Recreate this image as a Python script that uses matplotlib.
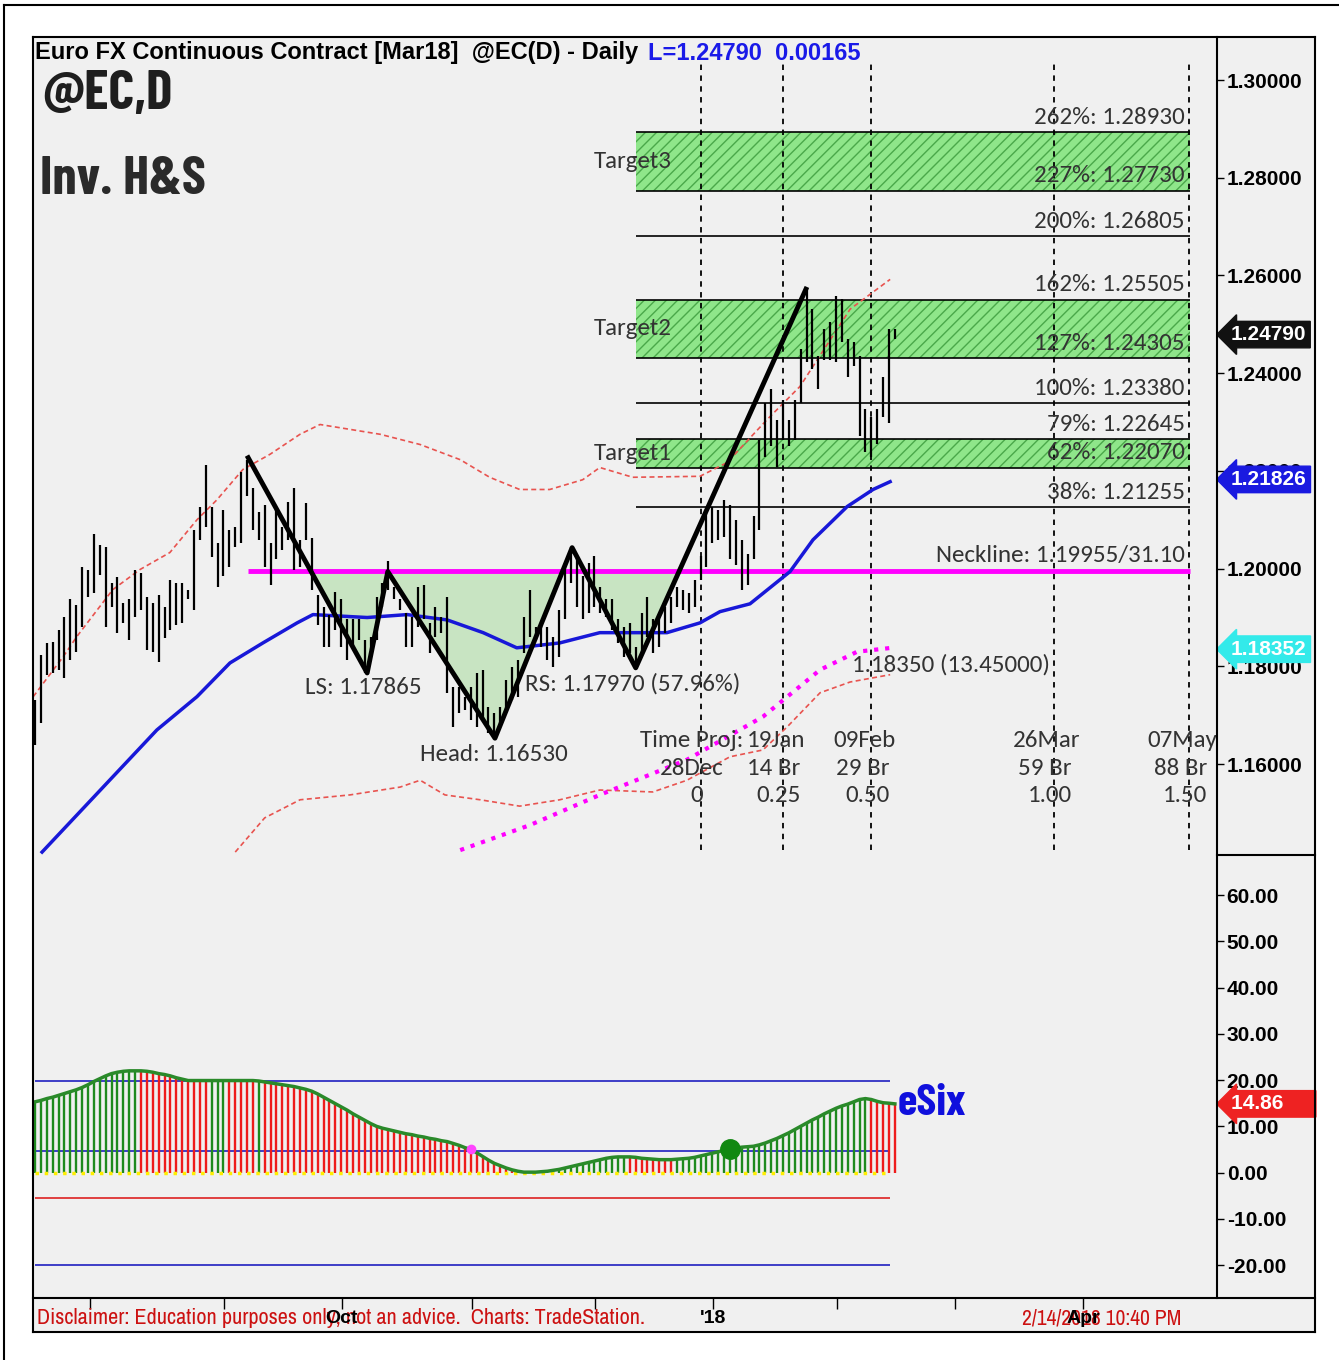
import numpy as np
import matplotlib
matplotlib.use("Agg")
import matplotlib.pyplot as plt
from matplotlib.patches import Rectangle
from matplotlib.lines import Line2D

W, H = 1339, 1360

# ---- daily bars (high / low), Euro FX @EC
highs = [1.1732, 1.1824, 1.1848, 1.1850, 1.1875, 1.1902, 1.1937, 1.1926, 1.2004, 1.1998,
         1.2070, 1.2049, 1.2045, 1.1971, 1.1982, 1.1930, 1.1937, 1.1998, 1.1992, 1.1943,
         1.1930, 1.1947, 1.1922, 1.1977, 1.1971, 1.1971, 1.1957, 1.2080, 1.2127, 1.2213,
         1.2127, 1.2053, 1.2121, 1.2080, 1.2086, 1.2197, 1.2223, 1.2166, 1.2115, 1.2131,
         1.2053, 1.2121, 1.2086, 1.2137, 1.2166, 1.2059, 1.2135, 1.2063, 1.1947, 1.1922,
         1.1906, 1.1953, 1.1937, 1.1896, 1.1896, 1.1896, 1.1855, 1.1861, 1.1943, 1.1971,
         1.2015, 1.1963, 1.1937, 1.1910, 1.1902, 1.1963, 1.1967, 1.1889, 1.1922, 1.1902,
         1.1943, 1.1758, 1.1758, 1.1738, 1.1758, 1.1787, 1.1793, 1.1717, 1.1705, 1.1717,
         1.1773, 1.1799, 1.1814, 1.1902, 1.1957, 1.1881, 1.1889, 1.1881, 1.1861, 1.1916,
         1.2012, 1.2045, 1.2025, 1.1984, 1.2012, 1.2025, 1.1963, 1.1937, 1.1937, 1.1896,
         1.1881, 1.1889, 1.1840, 1.1910, 1.1943, 1.1896, 1.1896, 1.1922, 1.1943, 1.1963,
         1.1957, 1.1951, 1.1977, 1.2025, 1.2115, 1.2127, 1.2121, 1.2141, 1.2131, 1.2100,
         1.2059, 1.2029, 1.2107, 1.2264, 1.2340, 1.2367, 1.2305, 1.2346, 1.2305, 1.2346,
         1.2449, 1.2572, 1.2531, 1.2436, 1.2490, 1.2504, 1.2557, 1.2551, 1.2469, 1.2463,
         1.2436, 1.2326, 1.2311, 1.2326, 1.2393, 1.2490, 1.2490]
lows = [1.1639, 1.1684, 1.1783, 1.1787, 1.1793, 1.1777, 1.1814, 1.1830, 1.1881, 1.1943,
        1.1951, 1.1988, 1.1881, 1.1922, 1.1869, 1.1889, 1.1855, 1.1902, 1.1916, 1.1834,
        1.1830, 1.1809, 1.1859, 1.1875, 1.1885, 1.1889, 1.1937, 1.1916, 1.2059, 1.2086,
        1.2023, 1.1963, 1.1984, 1.2004, 1.2045, 1.2053, 1.2148, 1.2080, 1.2059, 1.2004,
        1.1967, 1.2019, 1.2039, 1.2059, 1.1998, 1.2004, 1.2059, 1.1957, 1.1885, 1.1840,
        1.1840, 1.1875, 1.1840, 1.1814, 1.1840, 1.1855, 1.1787, 1.1834, 1.1855, 1.1922,
        1.1957, 1.1937, 1.1916, 1.1840, 1.1840, 1.1881, 1.1896, 1.1828, 1.1861, 1.1869,
        1.1746, 1.1676, 1.1705, 1.1711, 1.1691, 1.1676, 1.1691, 1.1664, 1.1653, 1.1676,
        1.1705, 1.1732, 1.1738, 1.1828, 1.1861, 1.1855, 1.1840, 1.1814, 1.1799, 1.1820,
        1.1896, 1.1971, 1.1922, 1.1896, 1.1910, 1.1922, 1.1910, 1.1902, 1.1875, 1.1848,
        1.1820, 1.1828, 1.1801, 1.1828, 1.1861, 1.1828, 1.1840, 1.1869, 1.1889, 1.1922,
        1.1916, 1.1910, 1.1922, 1.1977, 1.2004, 1.2053, 1.2059, 1.2065, 1.2019, 1.2008,
        1.1957, 1.1967, 1.2019, 1.2080, 1.2229, 1.2250, 1.2209, 1.2264, 1.2250, 1.2264,
        1.2340, 1.2422, 1.2408, 1.2367, 1.2428, 1.2428, 1.2422, 1.2463, 1.2393, 1.2414,
        1.2271, 1.2238, 1.2229, 1.2256, 1.2311, 1.2299, 1.2469]

# moving average and bands (bar index, price)
ma_x = [1.2, 20.7, 27.5, 33.1, 38.7, 44.5, 47.2, 56.4, 63.2, 70, 76.1, 81.8, 89.1,
        95.9, 107.3, 112.9, 116.3, 121.4, 128.2, 132.1, 137.9, 142.3, 145.2]
ma_y = [1.1420, 1.1670, 1.1738, 1.1807, 1.1848, 1.1889, 1.1906, 1.1900, 1.1906, 1.1895,
        1.1869, 1.1838, 1.1848, 1.1869, 1.1869, 1.1889, 1.1912, 1.1928, 1.1994, 1.2059,
        1.2127, 1.2162, 1.2178]
up_x = [-0.3, 4.8, 7.1, 13.2, 17.8, 22.9, 27.5, 30.9, 35.3, 39.9, 45, 48.4, 58.6, 65.4,
        72.2, 77.2, 82.3, 87.4, 93, 95.9, 101.5, 112.9, 117.5, 124.3, 129.9, 138.4, 145.2]
up_y = [1.1738, 1.1820, 1.1861, 1.1957, 1.1998, 1.2033, 1.2100, 1.2141, 1.2203, 1.2234,
        1.2275, 1.2295, 1.2275, 1.2254, 1.2223, 1.2187, 1.2162, 1.2162, 1.2182, 1.2207,
        1.2187, 1.2189, 1.2217, 1.2305, 1.2373, 1.2531, 1.2592]
lo_x = [34, 39, 45, 53.5, 62, 65.4, 69.6, 75.6, 82.3, 89.1, 95.9, 104.9, 110.7, 118,
        123.6, 127.7, 133.3, 138.4, 145.2]
lo_y = [1.1420, 1.1490, 1.1527, 1.1537, 1.1553, 1.1567, 1.1537, 1.1527, 1.1514, 1.1527,
        1.1547, 1.1543, 1.1567, 1.1615, 1.1629, 1.1676, 1.1746, 1.1768, 1.1783]
mg_x = [72.2, 84, 95.9, 110.7, 123.6, 133.3, 139.6, 145.5]
mg_y = [1.1424, 1.1475, 1.1537, 1.1609, 1.1697, 1.1793, 1.1830, 1.1838]

# inverse head & shoulders swing points
hs_x = [36.2, 56.4, 59.9, 78.1, 91.2, 102, 130.9]
hs_y = [1.2227, 1.17865, 1.1994, 1.16530, 1.2043, 1.17970, 1.2572]
neckline = 1.19955

# fib extension levels
fib_pct = ['262%', '227%', '200%', '162%', '127%', '100%', '79%', '62%', '38%']
fib_lvl = [1.28930, 1.27730, 1.26805, 1.25505, 1.24305, 1.23380, 1.22645, 1.22070, 1.21255]
targets = [('Target3', 1.27730, 1.28930), ('Target2', 1.24305, 1.25505), ('Target1', 1.22070, 1.22645)]

# time projections
proj_x = [113, 127, 142, 173, 196]
proj_dates = ['', '19Jan', '09Feb', '26Mar', '07May']
proj_bars = ['28Dec', '14 Br', '29 Br', '59 Br', '88 Br']
proj_ratio = ['0', '0.25', '0.50', '1.00', '1.50']

# last values shown in the axis tags
last_price, last_ma, last_proj = 1.24790, 1.21826, 1.18352

# eSix oscillator
esix = [15.3, 15.6, 16.0, 16.3, 16.7, 17.1, 17.5, 17.9, 18.4, 19.0,
        19.7, 20.3, 20.9, 21.4, 21.7, 21.9, 22.0, 22.0, 22.0, 21.9,
        21.7, 21.4, 21.2, 20.9, 20.5, 20.2, 19.9, 19.9, 19.9, 19.9,
        19.9, 19.9, 19.9, 19.9, 19.9, 19.9, 19.9, 19.9, 19.8, 19.6,
        19.4, 19.2, 19.0, 18.8, 18.6, 18.3, 18.0, 17.6, 17.0, 16.3,
        15.6, 14.9, 14.2, 13.5, 12.7, 12.0, 11.3, 10.6, 10.0, 9.6,
        9.3, 9.0, 8.7, 8.4, 8.2, 7.9, 7.7, 7.4, 7.2, 6.9,
        6.7, 6.3, 5.9, 5.4, 5.0, 4.3, 3.5, 2.7, 2.0, 1.5,
        1.0, 0.6, 0.3, 0.1, 0.1, 0.1, 0.2, 0.3, 0.5, 0.7,
        1.0, 1.3, 1.6, 1.9, 2.2, 2.5, 2.8, 3.1, 3.3, 3.4,
        3.4, 3.4, 3.3, 3.1, 3.0, 2.9, 2.8, 2.8, 2.8, 2.9,
        3.0, 3.1, 3.3, 3.6, 3.9, 4.2, 4.5, 4.8, 5.0, 5.3,
        5.5, 5.6, 5.7, 6.0, 6.4, 6.9, 7.4, 8.0, 8.6, 9.3,
        10.0, 10.7, 11.4, 12.0, 12.7, 13.3, 13.9, 14.4, 14.8, 15.3,
        15.8, 16.0, 15.8, 15.4, 15.1, 15.0, 14.86]
esix_runs = [('g', 18), ('r', 12), ('g', 3), ('r', 5), ('g', 1), ('r', 43),
             ('g', 19), ('r', 8), ('g', 33), ('r', 5)]
esix_levels = [19.8, 4.6, -20]
esix_red_level = -5.5

price_ticks = [1.30, 1.28, 1.26, 1.24, 1.22, 1.20, 1.18, 1.16]
osc_ticks = [60, 50, 40, 30, 20, 10, 0, -10, -20]
month_idx = [9.3, 32.1, 52.1, 74.2, 95.1, 115.1, 136.2, 156.2, 178]
month_lab = {52.1: 'Oct', 115.1: "'18", 178: 'Apr'}

COND = ['Barlow Condensed', 'Oswald', 'Asap Condensed', 'DejaVu Sans']
NARROW = ['Archivo Narrow', 'Liberation Sans']
CAL = ['Carlito', 'Lato', 'DejaVu Sans']

plt.rcParams['font.family'] = ['Liberation Sans', 'DejaVu Sans']
fig = plt.figure(figsize=(W / 100, H / 100), dpi=100)
fig.patch.set_facecolor('white')


def fx(x):
    return x / W


def fy(y):
    return 1 - y / H


# chart frame
fig.patches.append(Rectangle((fx(33), fy(1332)), fx(1315) - fx(33), fy(37) - fy(1332),
                             transform=fig.transFigure, facecolor='#f0f0f0',
                             edgecolor='none', zorder=-5))
frame = [((33, 1315), (37, 37)), ((33, 1315), (1332, 1332)), ((33, 33), (37, 1332)),
         ((1315, 1315), (37, 1332)), ((1217, 1217), (37, 1298)), ((1217, 1315), (855, 855)),
         ((33, 1315), (1298, 1298)), ((4, 4), (5, 1360)), ((4, 1339), (5, 5))]
for (xa, xb), (ya, yb) in frame:
    fig.add_artist(Line2D([fx(xa), fx(xb)], [fy(ya), fy(yb)], color='black', lw=1.5,
                          transform=fig.transFigure, zorder=20))

xlim = (-0.34, 200.7)
idx = np.arange(len(highs))

# ---------------- price panel
ax = fig.add_axes([fx(33), fy(855), fx(1217) - fx(33), fy(37) - fy(855)])
ax.set_facecolor('none')
ax.set_xlim(*xlim)
ax.set_ylim(1.1414, 1.3088)
for s in ax.spines.values():
    s.set_visible(False)
ax.set_xticks([])
ax.yaxis.tick_right()
ax.set_yticks(price_ticks)
ax.set_yticklabels([f'{v:.5f}' for v in price_ticks], fontweight='bold')
ax.tick_params(axis='y', direction='out', length=5, width=1, pad=2, labelsize=15)

FS = 18
fx0, fx1 = 102, 196.1
for name, lo, hi in targets:
    ax.add_patch(Rectangle((fx0, lo), fx1 - fx0, hi - lo, facecolor='#8fe68a',
                           edgecolor='#4aa84a', hatch='///', lw=0, zorder=1))
    ax.text(94.9, (lo + hi) / 2, name, fontsize=FS, family=CAL, color='#333333',
            va='center', ha='left', zorder=7)
ax.hlines(fib_lvl, fx0, fx1, color='black', lw=1.2, zorder=2)
for p, v in zip(fib_pct, fib_lvl):
    ax.annotate(f'{p}: {v:.5f}', (195.2, v), xytext=(0, 15), textcoords='offset pixels',
                ha='right', va='center', fontsize=FS, family=CAL, color='#333333', zorder=7)

ax.fill_between(hs_x, hs_y, neckline, where=np.array(hs_y) < neckline, interpolate=True,
                color='#c8e4c2', lw=0, zorder=1)
ax.hlines(neckline, 36.2, 196.1, color='#ff00ff', lw=3.5, zorder=3)
ax.annotate(f'Neckline: {neckline:.5f}/31.10', (195.2, neckline), xytext=(0, 15),
            textcoords='offset pixels', ha='right', va='center', fontsize=FS, family=CAL,
            color='#333333', zorder=7)

ax.vlines(proj_x, 1.1424, 1.3033, color='black', lw=1.3, linestyles=(0, (3, 3)), zorder=2)

ax.plot(up_x, up_y, color='#e8534f', lw=1.2, ls=(0, (3, 2)), zorder=3)
ax.plot(lo_x, lo_y, color='#e8534f', lw=1.2, ls=(0, (3, 2)), zorder=3)
ax.plot(mg_x, mg_y, color='#ff00ff', lw=3, ls=':', zorder=3)
ax.plot(ma_x, ma_y, color='#1818d8', lw=2.5, zorder=3)

ax.vlines(idx, lows, highs, color='black', lw=1.6, zorder=4)
ax.plot(hs_x, hs_y, color='black', lw=3.5, zorder=6)

lab = dict(fontsize=FS, family=CAL, color='#333333', va='center', zorder=7)
ax.text(45.8, 1.1756, f'LS: {hs_y[1]:.5f}', ha='left', **lab)
ax.text(65.4, 1.1619, f'Head: {hs_y[3]:.5f}', ha='left', **lab)
ax.text(83.2, 1.1764, f'RS: {hs_y[5]:.5f} (57.96%)', ha='left', **lab)
ax.text(138.7, 1.1803, '1.18350 (13.45000)', ha='left', **lab)
ax.text(120.2, 1.1648, 'Time Proj:', ha='right', **lab)
for xp, d, b, r in zip(proj_x, proj_dates, proj_bars, proj_ratio):
    ax.annotate(d, (xp, 1.1648), xytext=(-7, 0), textcoords='offset pixels', ha='center', **lab)
    ax.annotate(b, (xp, 1.1592), xytext=(-9, 0), textcoords='offset pixels', ha='center', **lab)
    ax.annotate(r, (xp, 1.1535), xytext=(-4, 0), textcoords='offset pixels', ha='center', **lab)


def tag(axis, val, text, fc, tc='white'):
    axis.annotate(text, xy=(1, val), xycoords=('axes fraction', 'data'), xytext=(14, 0),
                  textcoords='offset pixels', ha='left', va='center', fontsize=15,
                  fontweight='bold', color=tc,
                  bbox=dict(boxstyle='larrow,pad=0.18', fc=fc, ec=fc),
                  annotation_clip=False, zorder=10)


tag(ax, last_price, f'{last_price:.5f}', '#111111')
tag(ax, last_ma, f'{last_ma:.5f}', '#1a1ae0')
tag(ax, last_proj, f'{last_proj:.5f}', '#33eaea')

# ---------------- oscillator panel
ax2 = fig.add_axes([fx(33), fy(1298), fx(1217) - fx(33), fy(855) - fy(1298)])
ax2.set_facecolor('none')
ax2.set_xlim(*xlim)
ax2.set_ylim(-27.1, 68.65)
for s in ax2.spines.values():
    s.set_visible(False)
ax2.set_xticks([])
ax2.yaxis.tick_right()
ax2.set_yticks(osc_ticks)
ax2.set_yticklabels([f'{v:.2f}' for v in osc_ticks], fontweight='bold')
ax2.tick_params(axis='y', direction='out', length=5, width=1, pad=2, labelsize=15)

cols = []
for c, n in esix_runs:
    cols += [{'g': '#1e8a1e', 'r': '#ee1c1c'}[c]] * n
end = idx[-1] - 0.8
ax2.hlines(esix_levels, 0, end, color='#2020c0', lw=1.2, zorder=1)
ax2.hlines(esix_red_level, 0, end, color='#dd2222', lw=1.2, zorder=1)
ax2.vlines(idx, 0, esix, colors=cols, lw=1.7, zorder=2)
ax2.hlines(0, 0, end, color='#ffee00', lw=2.5, linestyles=':', zorder=3)
ax2.plot(idx, esix, color='#2a8a2a', lw=2.5, zorder=3)
ax2.plot(idx[74], esix[74], 'o', color='#ff44ff', ms=6, zorder=4)
ax2.plot(idx[118], esix[118], 'o', color='#118811', ms=14, zorder=4)
ax2.text(146.4, 15.0, 'eSix', fontsize=32, fontweight='bold', color='#1010dd',
         family=COND, va='center', ha='left')
tag(ax2, esix[-1], f'{esix[-1]:.2f}     ', '#ee2222')

# ---------------- date strip
ax3 = fig.add_axes([fx(33), fy(1332), fx(1217) - fx(33), fy(1298) - fy(1332)])
ax3.set_facecolor('none')
ax3.set_xlim(*xlim)
ax3.set_ylim(0, 1)
for s in ax3.spines.values():
    s.set_visible(False)
ax3.set_yticks([])
ax3.xaxis.tick_top()
ax3.set_xticks(month_idx)
ax3.set_xticklabels([])
ax3.tick_params(axis='x', direction='in', length=8, width=1)
ax3.text(0.3, 0.4, 'Disclaimer: Education purposes only, not an advice.  Charts: TradeStation.',
         fontsize=16, color='#cc1111', family=NARROW, va='center', ha='left')
ax3.text(167.6, 0.4, '2/14/2018 10:40 PM', fontsize=15.5, color='#cc1111',
         family=NARROW, va='center', ha='left')
for m, t in month_lab.items():
    ax3.text(m, 0.4, t, fontsize=14, fontweight='bold', color='black', va='center', ha='center')

# ---------------- header texts
fig.text(fx(35), fy(53), 'Euro FX Continuous Contract [Mar18]  @EC(D) - Daily', fontsize=17,
         fontweight='bold', va='center', ha='left')
fig.text(fx(648), fy(53), 'L=1.24790  0.00165', fontsize=17, fontweight='bold',
         color='#1a1ae8', va='center', ha='left')
fig.text(fx(42), fy(95), '@EC,D', fontsize=40, fontweight='bold', color='#1e1e1e',
         family=COND, va='center', ha='left')
fig.text(fx(40), fy(180), 'Inv. H&S', fontsize=39, fontweight='bold', color='#2a2a2a',
         family=COND, va='center', ha='left')

fig.savefig('out.png', dpi=100)
